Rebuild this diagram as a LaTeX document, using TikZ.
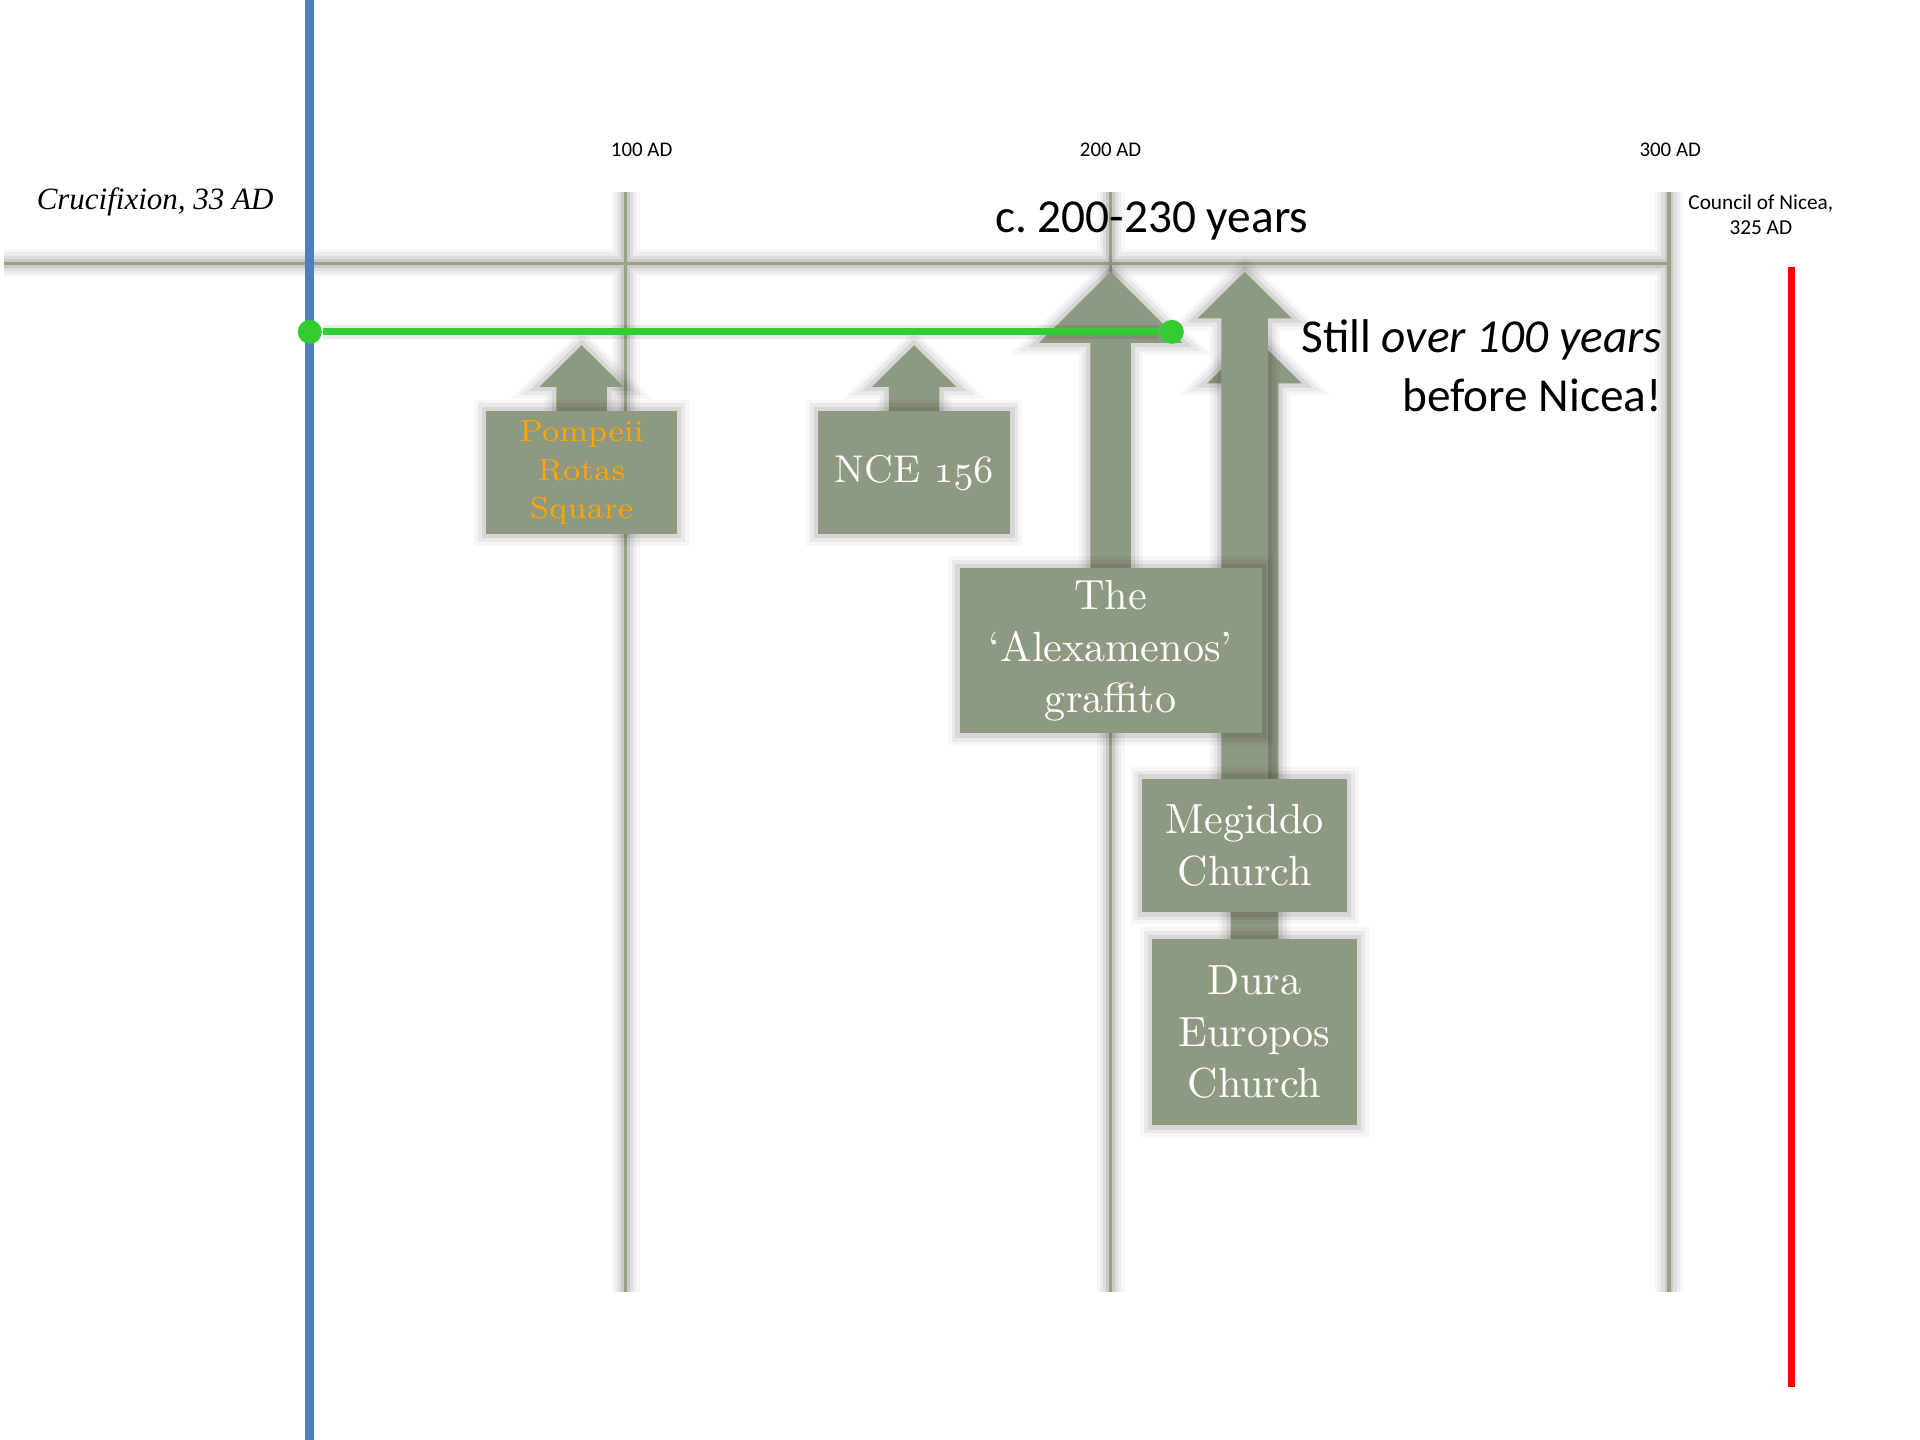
\documentclass[tikz,border=0pt]{standalone}
\usepackage{fontspec}
\setsansfont{Carlito}
\newfontfamily\crossfont{Liberation Serif}
\usetikzlibrary{calc}
\definecolor{slate}{RGB}{141,153,128}
\definecolor{ruleline}{RGB}{150,164,130}
\definecolor{crossblue}{RGB}{76,127,188}
\definecolor{spangreen}{RGB}{51,204,51}
\definecolor{pompeiiorange}{RGB}{255,165,0}
\pgfdeclarelayer{back}
\pgfdeclarelayer{arrows}
\pgfsetlayers{back,arrows,main}

\begin{document}
\begin{tikzpicture}[
    halo/.style={preaction={draw=black, line width=6.5pt, draw opacity=0.03}, preaction={draw=black, line width=5pt, draw opacity=0.045}, preaction={draw=black, line width=3.5pt, draw opacity=0.06}, draw=black, line width=2pt, draw opacity=0.09},
    timerule/.style={draw=ruleline, line width=0.8pt},
    era/.style={font=\sffamily\fontsize{4.85}{5.7}\selectfont, inner sep=0pt, anchor=base},
    softshadow/.style={preaction={draw=black, draw opacity=0.035, line width=5.5pt}, preaction={draw=black, draw opacity=0.05, line width=3.8pt}, preaction={draw=black, draw opacity=0.08, line width=2pt}},
    slab/.style={fill=slate, rectangle, inner sep=0pt, align=center, text=white, softshadow},
    riser/.style={fill=slate, softshadow},
    bigtext/.style={font=\fontsize{9.8}{11.95}\selectfont},
    enddot/.style={circle, fill=spangreen, minimum size=0.196cm, inner sep=0pt}
]
    \useasboundingbox (0,0) rectangle (15.68,-11.76);

    \coordinate (tlW) at (0.03,-2.15);
    \coordinate (tlE) at (13.62,-2.15);
    \coordinate (t100a) at (5.11,-1.57);
    \coordinate (t100b) at (5.11,-10.55);
    \coordinate (t200a) at (9.07,-1.57);
    \coordinate (t200b) at (9.07,-10.55);
    \coordinate (t300a) at (13.63,-1.57);
    \coordinate (t300b) at (13.63,-10.55);
    \coordinate (blueT) at (2.53,0);
    \coordinate (blueB) at (2.53,-11.76);
    \coordinate (redT) at (14.63,-2.18);
    \coordinate (redB) at (14.63,-11.33);

    \coordinate (tipP) at (4.75,-2.82);
    \coordinate (tipN) at (7.465,-2.82);
    \coordinate (tipA) at (9.07,-2.22);
    \coordinate (tipM) at (10.165,-2.22);
    \coordinate (tipD) at (10.245,-2.75);

    \node [font=\crossfont\itshape\fontsize{7.2}{8}\selectfont, anchor=base east, inner sep=0pt] (crux) at (2.24,-1.71) {Crucifixion, 33 AD};
    \node [era] (y100) at (5.24,-1.28) {100 AD};
    \node [era] (y200) at (9.07,-1.28) {200 AD};
    \node [era] (y300) at (13.64,-1.28) {300 AD};
    \node [font=\sffamily\fontsize{4.95}{5.7}\selectfont, align=center, inner sep=0pt] (nicea) at (14.38,-1.755) {Council of Nicea,\\325 AD};
    \node [font=\sffamily\fontsize{11}{13.66}\selectfont, anchor=base, inner sep=0pt] (span) at (9.405,-1.90) {c.\ 200-230 years};
    \node [font=\sffamily\fontsize{11}{13.66}\selectfont, align=right, anchor=east, inner sep=0pt] (still) at (13.58,-2.985) {Still \textit{over 100 years}\\before Nicea!};

    \node [slab, minimum width=1.56cm, minimum height=1.0cm, text=pompeiiorange, font=\fontsize{7.1}{8.9}\selectfont] (pompeii) at (4.75,-3.86) {Pompeii\\Rotas\\Square};
    \node [slab, minimum width=1.57cm, minimum height=1.0cm, font=\fontsize{9}{11}\selectfont] (nce) at (7.465,-3.86) {NCE $\mathnormal{156}$};
    \node [slab, minimum width=2.465cm, minimum height=1.35cm, bigtext] (alex) at (9.07,-5.315) {The\\‘Alexamenos’\\graffito};
    \node [slab, minimum width=1.67cm, minimum height=1.09cm, bigtext] (megiddo) at (10.165,-6.905) {Megiddo\\Church};
    \node [slab, minimum width=1.67cm, minimum height=1.52cm, bigtext] (dura) at (10.245,-8.43) {Dura\\Europos\\Church};

    \begin{pgfonlayer}{back}
        \draw [halo] (tlW) -- (tlE) (t100a) -- (t100b) (t200a) -- (t200b) (t300a) -- (t300b);
        \draw [timerule] (tlW) -- (tlE) (t100a) -- (t100b) (t200a) -- (t200b) (t300a) -- (t300b);
        \draw [crossblue, line width=2pt] (blueT) -- (blueB);
        \draw [red, line width=1.8pt] (redT) -- (redB);
    \end{pgfonlayer}

    \begin{pgfonlayer}{arrows}
        \fill [riser] ($(pompeii.north)+(-0.207,-0.05)$) -- ($(tipP)+(-0.207,-0.34)$) -- ($(tipP)+(-0.345,-0.34)$) -- (tipP) -- ($(tipP)+(0.345,-0.34)$) -- ($(tipP)+(0.207,-0.34)$) -- ($(pompeii.north)+(0.207,-0.05)$) -- cycle;
        \fill [riser] ($(nce.north)+(-0.207,-0.05)$) -- ($(tipN)+(-0.207,-0.34)$) -- ($(tipN)+(-0.345,-0.34)$) -- (tipN) -- ($(tipN)+(0.345,-0.34)$) -- ($(tipN)+(0.207,-0.34)$) -- ($(nce.north)+(0.207,-0.05)$) -- cycle;
        \fill [riser] ($(dura.north)+(-0.195,-0.05)$) -- ($(tipD)+(-0.195,-0.38)$) -- ($(tipD)+(-0.385,-0.38)$) -- (tipD) -- ($(tipD)+(0.385,-0.38)$) -- ($(tipD)+(0.195,-0.38)$) -- ($(dura.north)+(0.195,-0.05)$) -- cycle;
        \fill [riser] ($(megiddo.north)+(-0.19,-0.05)$) -- ($(tipM)+(-0.19,-0.38)$) -- ($(tipM)+(-0.385,-0.38)$) -- (tipM) -- ($(tipM)+(0.385,-0.38)$) -- ($(tipM)+(0.19,-0.38)$) -- ($(megiddo.north)+(0.19,-0.05)$) -- cycle;
        \fill [riser] ($(alex.north)+(-0.165,-0.05)$) -- ($(tipA)+(-0.165,-0.58)$) -- ($(tipA)+(-0.585,-0.58)$) -- (tipA) -- ($(tipA)+(0.585,-0.58)$) -- ($(tipA)+(0.165,-0.58)$) -- ($(alex.north)+(0.165,-0.05)$) -- cycle;
    \end{pgfonlayer}

    \node [enddot] (gstart) at (2.53,-2.71) {};
    \node [enddot] (gend) at (9.57,-2.71) {};
    \draw [draw=black, line width=3.2pt, draw opacity=0.08] (gstart) -- (gend);
    \draw [spangreen, line width=1.55pt] (gstart) -- (gend);

\end{tikzpicture}
\end{document}
